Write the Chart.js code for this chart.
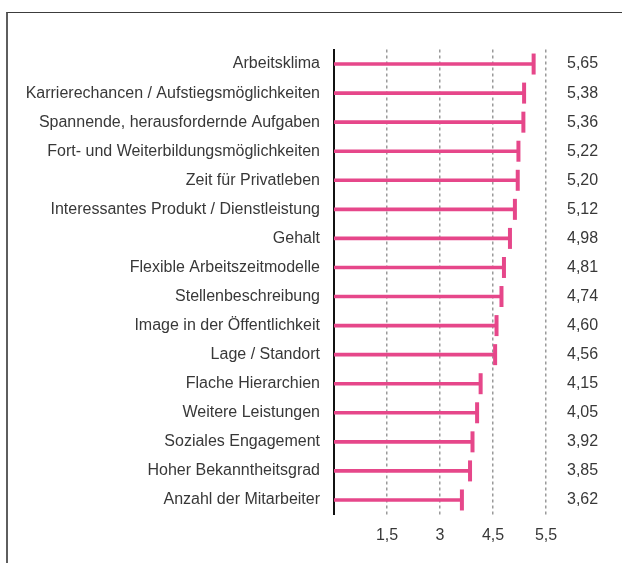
<!DOCTYPE html>
<html lang="de">
<head>
<meta charset="utf-8">
<title>Arbeitgeberattraktivität</title>
<script src="https://cdn.jsdelivr.net/npm/chart.js@4.4.1/dist/chart.umd.min.js"></script>
<style>
  html, body { margin: 0; padding: 0; background: #fff; }
  #wrap { position: relative; width: 622px; height: 563px; overflow: hidden; }
  #frame {
    position: absolute; left: 6px; top: 12px; width: 620px; height: 560px;
    border-left: 2px solid #5e5e5e; border-top: 1.5px solid #3c3c3c;
  }
  #chart { position: absolute; left: 0; top: 0; }
</style>
</head>
<body>
<div id="wrap">
  <div id="frame"></div>
  <canvas id="chart" width="622" height="563"></canvas>
</div>
<script>
// Data
const categories = [
    'Arbeitsklima',
    'Karrierechancen / Aufstiegsmöglichkeiten',
    'Spannende, herausfordernde Aufgaben',
    'Fort- und Weiterbildungsmöglichkeiten',
    'Zeit für Privatleben',
    'Interessantes Produkt / Dienstleistung',
    'Gehalt',
    'Flexible Arbeitszeitmodelle',
    'Stellenbeschreibung',
    'Image in der Öffentlichkeit',
    'Lage / Standort',
    'Flache Hierarchien',
    'Weitere Leistungen',
    'Soziales Engagement',
    'Hoher Bekanntheitsgrad',
    'Anzahl der Mitarbeiter'
];
const values = [5.65, 5.38, 5.36, 5.22, 5.20, 5.12, 4.98, 4.81, 4.74, 4.60, 4.56, 4.15, 4.05, 3.92, 3.85, 3.62];

// x axis ticks as printed in the original (last one reads 5,5)
const tickValues = [1.5, 3, 4.5, 6];
const tickLabels = ['1,5', '3', '4,5', '5,5'];

const pink = '#e6478a';
const textColor = '#383838';
const fontFamily = '"Liberation Sans", Arial, sans-serif';
const fontSize = 16;

// value labels shown on the right side
const valueLabels = values.map(v => v.toFixed(2).replace('.', ','));

const ctx = document.getElementById('chart').getContext('2d');
new Chart(ctx, {
    data: {
        labels: categories,
        datasets: [
            {
                type: 'bar',
                data: values,
                backgroundColor: pink,
                barThickness: 3,
                borderWidth: 0,
                order: 2
            },
            {
                type: 'line',
                data: values,
                showLine: false,
                pointStyle: 'line',
                rotation: 90,
                radius: 10.5,
                pointBorderWidth: 4,
                borderColor: pink,
                pointBorderColor: pink,
                order: 1
            }
        ]
    },
    options: {
        indexAxis: 'y',
        responsive: false,
        animation: false,
        events: [],
        layout: { padding: { top: 49.5, left: 0, right: 0, bottom: 0 } },
        plugins: {
            legend: { display: false },
            tooltip: { enabled: false }
        },
        scales: {
            x: {
                type: 'linear',
                min: 0,
                max: 6,
                afterBuildTicks: function(scale) {
                    scale.ticks = tickValues.map(v => ({ value: v }));
                },
                afterFit: function(scale) { scale.height = 48.5; },
                ticks: {
                    color: textColor,
                    font: { family: fontFamily, size: fontSize },
                    padding: 11,
                    callback: function(value) {
                        const i = tickValues.indexOf(value);
                        return i >= 0 ? tickLabels[i] : '';
                    }
                },
                grid: {
                    drawTicks: false,
                    color: '#9a9a9a',
                    lineWidth: 1.5
                },
                border: { display: false, dash: [3, 3] }
            },
            y: {
                type: 'category',
                offset: true,
                afterFit: function(scale) { scale.width = 334; },
                ticks: {
                    color: textColor,
                    font: { family: fontFamily, size: fontSize },
                    padding: 14
                },
                grid: { display: false, drawTicks: false },
                border: { display: true, color: '#111', width: 2 }
            },
            y2: {
                type: 'category',
                position: 'right',
                labels: valueLabels,
                offset: true,
                afterFit: function(scale) { scale.width = 76; },
                ticks: {
                    color: textColor,
                    font: { family: fontFamily, size: fontSize },
                    padding: 21
                },
                grid: { display: false, drawTicks: false },
                border: { display: false }
            }
        }
    }
});
</script>
</body>
</html>
